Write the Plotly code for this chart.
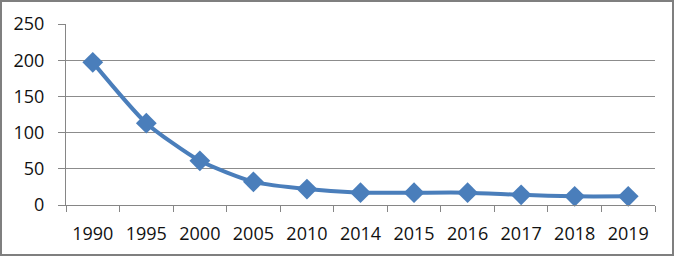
import plotly.graph_objects as go

years = ["1990", "1995", "2000", "2005", "2010", "2014", "2015", "2016", "2017", "2018", "2019"]
values = [197, 113, 61, 32, 22, 17, 17, 17, 14, 12, 12]
y_ticks = [0, 50, 100, 150, 200, 250]

W, H = 678, 257
ml, mr, mt, mb = 66, 23, 24, 52
pw, ph = W - ml - mr, H - mt - mb

fig = go.Figure()
fig.add_trace(go.Scatter(
    x=years, y=values, mode="lines+markers",
    line=dict(color="#4A7EBB", width=4, shape="spline", smoothing=0.6),
    marker=dict(symbol="diamond", size=16, color="#4A7EBB", line=dict(width=0)),
    cliponaxis=False,
))

font = dict(family="Open Sans, Liberation Sans, sans-serif", size=18, color="#111111")
fig.update_layout(
    width=W, height=H,
    margin=dict(l=ml, r=mr, t=mt, b=mb, autoexpand=False),
    paper_bgcolor="white", plot_bgcolor="white",
    showlegend=False,
    font=font,
    xaxis=dict(
        type="category", range=[-0.5, len(years) - 0.5], automargin=False,
        showgrid=False, showline=True, linecolor="#868686", linewidth=1,
        ticks="outside", tickson="boundaries", ticklen=6, tickcolor="#868686",
        tickfont=font, ticklabelstandoff=12,
    ),
    yaxis=dict(
        range=[0, 250], tickvals=y_ticks, automargin=False,
        showgrid=True, gridcolor="#8C8C8C", gridwidth=1,
        showline=True, linecolor="#868686", linewidth=1, zeroline=False,
        ticks="outside", ticklen=7, tickcolor="#868686",
        tickfont=font, ticklabelstandoff=10,
    ),
)

# outer chart border (pixel positions converted to paper coordinates)
fig.add_shape(type="rect", xref="paper", yref="paper",
              x0=(1 - ml) / pw, x1=(W - 5 - ml) / pw,
              y0=-(mb - 2) / ph, y1=1 + (mt - 1) / ph,
              line=dict(color="#7F7F7F", width=2), fillcolor="rgba(0,0,0,0)", layer="below")

fig.write_html("out.html", config={"displayModeBar": False},
               post_script="document.body.style.margin='0';document.body.style.overflow='hidden';")
